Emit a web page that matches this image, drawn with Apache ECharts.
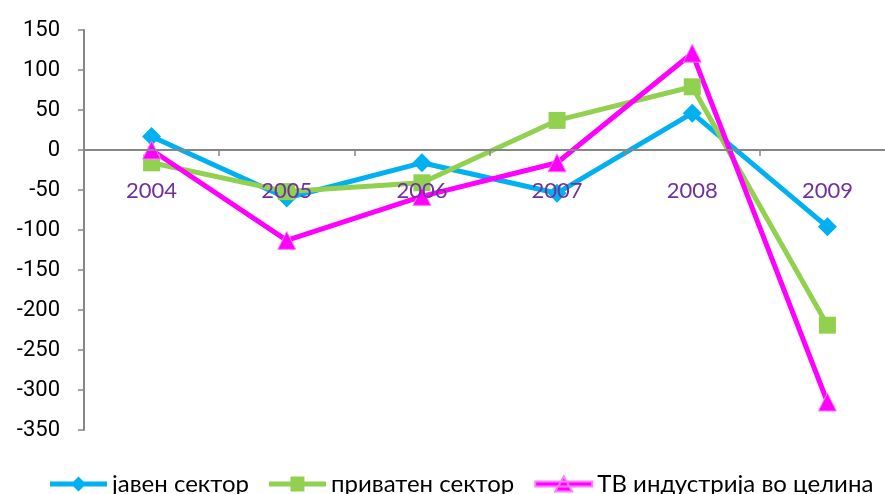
<!DOCTYPE html>
<html>
<head>
<meta charset="utf-8">
<script src="https://cdn.jsdelivr.net/npm/echarts@6/dist/echarts.min.js"></script>
<style>
  html, body { margin: 0; padding: 0; background: #fff; overflow: hidden; }
  #chart { width: 895px; height: 494px; }
</style>
</head>
<body>
<div id="chart"></div>
<script>
const years = ['2004', '2005', '2006', '2007', '2008', '2009'];
const javen = [17, -60, -16, -54, 46, -96];
const privaten = [-16, -52, -41, 37, 79, -219];
const tvVkupno = [0, -113, -58, -16, 121, -315];
const seriesNames = ['јавен сектор', 'приватен сектор', 'ТВ индустрија во целина'];

const chart = echarts.init(document.getElementById('chart'));

// y pixels: 150 at top of grid (30), -350 at bottom (430) -> zero line 280px above bottom
const zeroOffset = -280;

// legend icons: thick line with the marker in the middle (57 x 15 box)
const iconDiamond = 'path://M0 5H57V10H0Z M28.5 0L36 7.5L28.5 15L21 7.5Z';
const iconSquare = 'path://M0 5H57V10H0Z M21.5 0H35.5V15H21.5Z';
const iconTriangle = 'path://M0 5H57V10H0Z M28.5 0L37 15H20Z';

function lineSeries(name, data, color, symbol, size, border) {
  return {
    name: name,
    type: 'line',
    data: data,
    symbol: symbol,
    symbolSize: size,
    lineStyle: { color: color, width: 5 },
    itemStyle: { color: color, borderColor: border || color, borderWidth: border ? 1 : 0 },
    z: 3
  };
}

const option = {
  animation: false,
  backgroundColor: '#fff',
  grid: { left: 84, right: 0, top: 30, bottom: 64 },
  legend: {
    top: 467,
    left: 45,
    itemWidth: 57,
    itemHeight: 15,
    itemGap: 20,
    textStyle: { fontFamily: 'Lato', fontSize: 24, color: '#000' },
    data: [
      { name: seriesNames[0], icon: iconDiamond },
      { name: seriesNames[1], icon: iconSquare },
      { name: seriesNames[2], icon: iconTriangle }
    ]
  },
  xAxis: {
    type: 'category',
    data: years,
    position: 'bottom',
    offset: zeroOffset,
    boundaryGap: true,
    z: 10,
    axisLine: { onZero: false, lineStyle: { color: '#868686', width: 2 } },
    axisTick: { show: true, length: 6, lineStyle: { color: '#868686', width: 1.5 } },
    axisLabel: { color: '#7030A0', fontFamily: 'Lato', fontSize: 22, margin: 30 },
    splitLine: { show: false }
  },
  yAxis: {
    type: 'value',
    min: -350,
    max: 150,
    interval: 50,
    axisLine: { show: true, lineStyle: { color: '#868686', width: 2 } },
    axisTick: { show: true, length: 6, lineStyle: { color: '#868686', width: 1.5 } },
    axisLabel: { color: '#000', fontFamily: 'Roboto', fontSize: 22, margin: 24 },
    splitLine: { show: false }
  },
  series: [
    lineSeries(seriesNames[0], javen, '#00B0F0', 'diamond', 19),
    lineSeries(seriesNames[1], privaten, '#92D050', 'rect', 17),
    lineSeries(seriesNames[2], tvVkupno, '#FF00FF', 'triangle', 18, '#FF7CFF')
  ]
};

chart.setOption(option);
</script>
</body>
</html>
